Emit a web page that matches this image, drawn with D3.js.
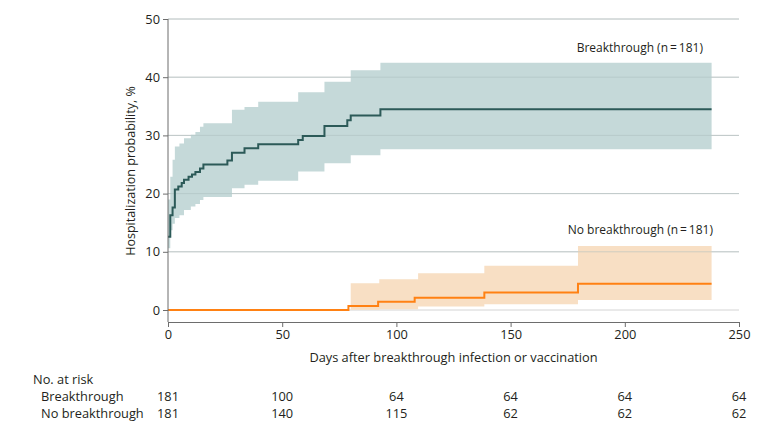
<!DOCTYPE html>
<html>
<head>
<meta charset="utf-8">
<script src="https://cdn.jsdelivr.net/npm/d3@7"></script>
<style>
  body { margin: 0; background: #fff; }
  svg text { font-family: "Open Sans", "Liberation Sans", sans-serif; fill: #231f20; }
  .grid line { stroke: #d4d4d4; }
  .axis path, .axis line { stroke: #6d6d6d; }
</style>
</head>
<body>
<svg id="chart"></svg>
<script>
// Breakthrough group: Kaplan-Meier style step curve (days, %)
const btDays  = [0, 1, 2, 3, 4.5, 6, 7, 9, 10.5, 12, 14, 15.5, 26, 28, 33.5, 39.5, 57, 59, 68.5, 78.5, 80, 93, 238];
const btVals  = [12.6, 16.3, 17.6, 20.7, 21.2, 21.8, 22.4, 22.9, 23.3, 23.7, 24.3, 25.0, 25.7, 27.0, 27.8, 28.5, 29.2, 29.9, 31.6, 32.6, 33.4, 34.5, 34.5];
// Breakthrough 95% CI band
const btCiDays  = [0, 1, 2, 3, 5, 7, 10, 12, 14, 15.5, 28, 33.5, 39.5, 57, 68.5, 80, 93, 238];
const btCiUpper = [19.0, 22.9, 25.8, 28.1, 28.6, 29.5, 30.1, 30.6, 31.5, 32.1, 34.4, 34.9, 35.8, 37.4, 39.2, 41.2, 42.5, 42.5];
const btCiLower = [10.6, 13.7, 14.8, 15.8, 16.3, 17.2, 17.8, 18.2, 18.9, 19.4, 20.9, 21.5, 22.2, 23.8, 25.2, 26.6, 27.6, 27.6];

// No breakthrough group
const nbDays = [0, 79, 92, 108, 138.5, 179.5, 238];
const nbVals = [0, 0.7, 1.4, 2.1, 3.0, 4.5, 4.5];
const nbCiDays  = [80, 92.5, 109.5, 138.5, 179.5, 238];
const nbCiUpper = [4.6, 5.3, 6.3, 7.6, 11.0, 11.0];
const nbCiLower = [0.05, 0.15, 0.6, 1.0, 1.7, 1.7];

// Axis ticks and risk table
const xTicks = [0, 50, 100, 150, 200, 250];
const yTicks = [0, 10, 20, 30, 40, 50];
const riskGroups = ["Breakthrough", "No breakthrough"];
const riskBreakthrough = [181, 100, 64, 64, 64, 64];
const riskNoBreakthrough = [181, 140, 115, 62, 62, 62];

const width = 783, height = 432;
const fs = "12.8px";
const svg = d3.select("#chart").attr("width", width).attr("height", height);

const x = d3.scaleLinear().domain([0, 250]).range([168, 739]);
const y = d3.scaleLinear().domain([0, 50]).range([310, 19]);
const axisY = 322; // x axis sits a bit below zero

const zip = (a, b) => a.map((d, i) => [d, b[i]]);
const zip3 = (a, b, c) => a.map((d, i) => ({ day: d, lo: b[i], hi: c[i] }));

// Gridlines
svg.append("g").attr("class", "grid")
  .selectAll("line").data(yTicks).join("line")
  .attr("x1", x(0)).attr("x2", x(250))
  .attr("y1", d => y(d)).attr("y2", d => y(d));

// CI bands
const band = d3.area().curve(d3.curveStepAfter)
  .x(d => x(d.day)).y0(d => y(d.lo)).y1(d => y(d.hi));

svg.append("path").datum(zip3(btCiDays, btCiLower, btCiUpper))
  .attr("d", band).attr("fill", "#c5d9d9");
svg.append("path").datum(zip3(nbCiDays, nbCiLower, nbCiUpper))
  .attr("d", band).attr("fill", "#f8dfc4");

// Re-draw gridlines faintly on top of bands
svg.append("g").attr("class", "grid")
  .selectAll("line").data(yTicks.filter(d => d > 0)).join("line")
  .attr("x1", x(0)).attr("x2", x(250))
  .attr("y1", d => y(d)).attr("y2", d => y(d))
  .style("stroke", "#a9bdbd").style("stroke-opacity", 0.5);

// Step lines
const step = d3.line().curve(d3.curveStepAfter).x(d => x(d[0])).y(d => y(d[1]));
svg.append("path").datum(zip(nbDays, nbVals))
  .attr("d", step).attr("fill", "none").attr("stroke", "#ff8113").attr("stroke-width", 2);
svg.append("path").datum(zip(btDays, btVals))
  .attr("d", step).attr("fill", "none").attr("stroke", "#2c5a58").attr("stroke-width", 2);

// Axes
const xAxis = d3.axisBottom(x).tickValues(xTicks).tickSize(5).tickSizeOuter(0).tickPadding(3);
const yAxis = d3.axisLeft(y).tickValues(yTicks).tickSize(5).tickSizeOuter(0).tickPadding(3);

const xAxisG = svg.append("g").attr("class", "axis")
  .attr("transform", `translate(0,${axisY})`).call(xAxis);
const yAxisG = svg.append("g").attr("class", "axis")
  .attr("transform", `translate(${x(0)},0)`).call(yAxis);
// extend y axis line down to meet x axis
yAxisG.select(".domain").attr("d", `M0,${y(50)}V${axisY}`);
svg.selectAll(".axis text").style("font-size", fs).style("fill", "#231f20");

// Axis titles
svg.append("text")
  .attr("x", (x(0) + x(250)) / 2).attr("y", 362)
  .attr("text-anchor", "middle").style("font-size", fs)
  .text("Days after breakthrough infection or vaccination");
svg.append("text")
  .attr("transform", `translate(135,${171}) rotate(-90)`)
  .attr("text-anchor", "middle").style("font-size", "12.5px")
  .text("Hospitalization probability, %");

// Series labels
svg.append("text").attr("x", 703).attr("y", 52)
  .attr("text-anchor", "end").style("font-size", "12px")
  .text("Breakthrough (n\u2009=\u2009181)");
svg.append("text").attr("x", 713).attr("y", 234)
  .attr("text-anchor", "end").style("font-size", "12px")
  .text("No breakthrough (n\u2009=\u2009181)");

// Risk table
svg.append("text").attr("x", 33).attr("y", 384).style("font-size", fs).text("No. at risk");
const rows = [riskBreakthrough, riskNoBreakthrough];
rows.forEach((vals, r) => {
  const yy = 401 + r * 16.5;
  svg.append("text").attr("x", 41).attr("y", yy).style("font-size", fs).text(riskGroups[r]);
  svg.append("g").selectAll("text").data(vals).join("text")
    .attr("x", (d, i) => x(xTicks[i])).attr("y", yy)
    .attr("text-anchor", "middle").style("font-size", fs)
    .text(d => d);
});
</script>
</body>
</html>
